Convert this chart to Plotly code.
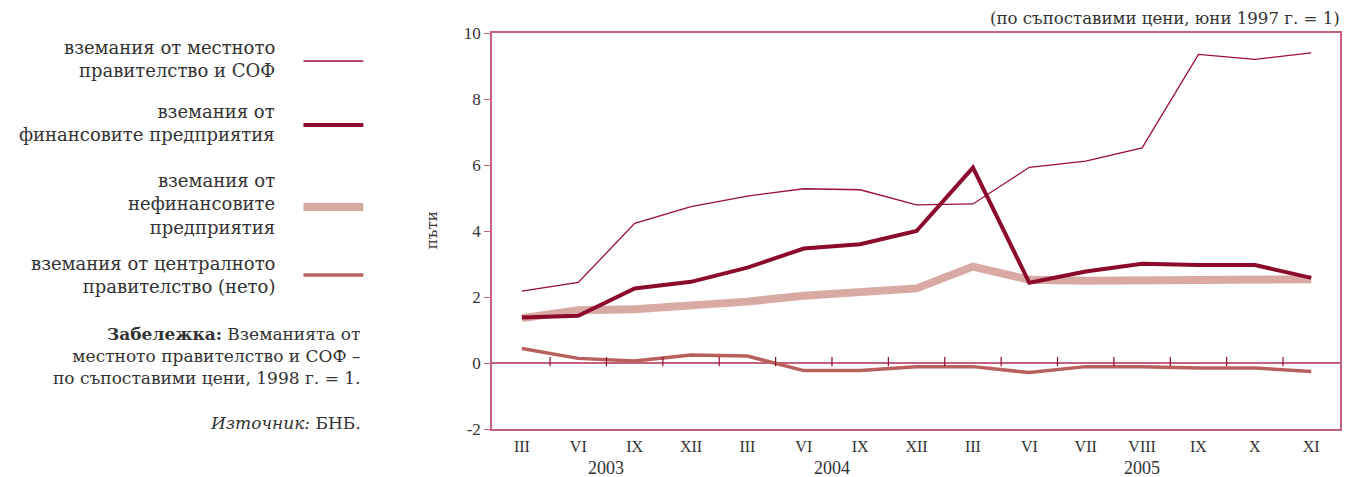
import plotly.graph_objects as go

months = ["III", "VI", "IX", "XII", "III", "VI", "IX", "XII", "III", "VI", "VII", "VIII", "IX", "X", "XI"]
years = ["2003", "2004", "2005"]
year_pos = [1.5, 5.5, 11.0]
y_ticks = [-2, 0, 2, 4, 6, 8, 10]
y_tick_text = ["-2", "0", "2", "4", "6", "8", "10"]

local_gov = [2.18, 2.44, 4.23, 4.74, 5.06, 5.28, 5.25, 4.79, 4.82, 5.93, 6.12, 6.52, 9.35, 9.20, 9.40]
financial = [1.38, 1.43, 2.26, 2.46, 2.89, 3.47, 3.60, 4.00, 5.92, 2.43, 2.77, 3.01, 2.97, 2.97, 2.58]
nonfinancial = [1.36, 1.60, 1.63, 1.74, 1.86, 2.04, 2.14, 2.26, 2.92, 2.52, 2.49, 2.49, 2.54, 2.54, 2.54]
central_gov = [0.44, 0.14, 0.06, 0.24, 0.21, -0.23, -0.23, -0.11, -0.11, -0.29, -0.11, -0.11, -0.15, -0.15, -0.26]

legend_labels = [
    "вземания от местното<br>правителство и СОФ",
    "вземания от<br>финансовите предприятия",
    "вземания от<br>нефинансовите<br>предприятия",
    "вземания от централното<br>правителство (нето)",
]

C_THIN = "#990f36"
C_DARK = "#8c0a2c"
C_LIGHT = "#d9a9a4"
C_MID = "#b9605f"
C_AXIS = "#c4627e"
TXT = "#333333"
FONT = "Liberation Serif"
CFONT = "DejaVu Serif"

x = list(range(len(months)))

fig = go.Figure()
fig.add_trace(go.Scatter(x=x, y=nonfinancial, mode="lines", line=dict(color=C_LIGHT, width=8), showlegend=False))
fig.add_trace(go.Scatter(x=x, y=central_gov, mode="lines", line=dict(color=C_MID, width=3.5), showlegend=False))
fig.add_trace(go.Scatter(x=x, y=local_gov, mode="lines", line=dict(color=C_THIN, width=1.3), showlegend=False))
fig.add_trace(go.Scatter(x=x, y=financial, mode="lines", line=dict(color=C_DARK, width=4), showlegend=False))

L, R, T, B = 492, 1342, 33, 429
W, H = R - L, B - T


def px(v):
    return (v - L) / W


def py(v):
    return (B - v) / H


shapes = []
# small ticks on the zero line between categories
for k in range(len(months) - 1):
    shapes.append(dict(type="line", xref="x", yref="y", x0=k + 0.5, x1=k + 0.5, y0=-0.1, y1=0.18,
                       line=dict(color=C_DARK, width=1.2)))

# legend samples
legend_y = [61, 125, 207, 275]
legend_styles = [(C_THIN, 1.3), (C_DARK, 4), (C_LIGHT, 8), (C_MID, 3.5)]
for yy, (c, w) in zip(legend_y, legend_styles):
    shapes.append(dict(type="line", xref="paper", yref="paper", x0=px(303), x1=px(363), y0=py(yy), y1=py(yy),
                       line=dict(color=c, width=w)))

annotations = []
legend_text_y = [58.5, 123, 204, 275]
for yy, t in zip(legend_text_y, legend_labels):
    annotations.append(dict(xref="paper", yref="paper", x=px(276), y=py(yy), xanchor="right", yanchor="middle",
                            text=t, showarrow=False, align="right", font=dict(family=CFONT, size=18, color=TXT)))
annotations.append(dict(xref="paper", yref="paper", x=px(363), y=py(356), xanchor="right", yanchor="middle",
                        text="<b>Забележка:</b> Вземанията от<br>местното правителство и СОФ –<br>по съпоставими цени, 1998 г. = 1.",
                        showarrow=False, align="right", font=dict(family=CFONT, size=17, color=TXT)))
annotations.append(dict(xref="paper", yref="paper", x=px(363), y=py(423), xanchor="right", yanchor="middle",
                        text="<i>Източник:</i> БНБ.", showarrow=False, align="right",
                        font=dict(family=CFONT, size=17, color=TXT)))
annotations.append(dict(xref="paper", yref="paper", x=px(1344), y=py(18), xanchor="right", yanchor="middle",
                        text="(по съпоставими цени, юни 1997 г. = 1)", showarrow=False,
                        font=dict(family=CFONT, size=16.6, color=TXT)))
annotations.append(dict(xref="paper", yref="paper", x=px(432), y=py(230), xanchor="center", yanchor="middle",
                        text="пъти", textangle=-90, showarrow=False, font=dict(family=CFONT, size=15, color=TXT)))
for yp, yl in zip(year_pos, years):
    annotations.append(dict(xref="x", yref="paper", x=yp, y=py(468), xanchor="center", yanchor="middle",
                            text=yl, showarrow=False, font=dict(family=FONT, size=18, color=TXT)))

fig.update_layout(
    width=1345, height=477,
    margin=dict(l=L, r=1345 - R, t=T, b=477 - B),
    paper_bgcolor="white", plot_bgcolor="white",
    font=dict(family=FONT, color=TXT),
    xaxis=dict(range=[-0.53, 14.51], tickmode="array", tickvals=x, ticktext=months, ticks="",
               showgrid=False, zeroline=False, showline=True, mirror=True, linecolor=C_AXIS, linewidth=1.5,
               tickfont=dict(family=FONT, size=16, color=TXT), ticklabelstandoff=2),
    yaxis=dict(range=[-2, 10], tickmode="array", tickvals=y_ticks, ticktext=y_tick_text, ticks="outside",
               ticklen=6, tickcolor=C_AXIS,
               showgrid=False, zeroline=True, zerolinecolor=C_AXIS, zerolinewidth=1.5,
               showline=True, mirror=True, linecolor=C_AXIS, linewidth=1.5,
               tickfont=dict(family=FONT, size=17, color=TXT)),
    shapes=shapes, annotations=annotations,
)

fig.write_html("out.html", config={"displayModeBar": False},
               post_script="document.body.style.margin='0px';document.body.style.overflow='hidden';")
